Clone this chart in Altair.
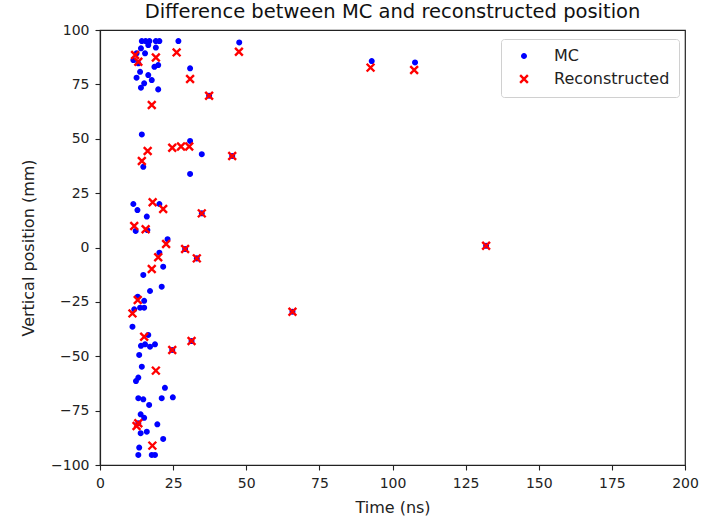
import altair as alt
import pandas as pd

mc_time = [14.3, 15.6, 16.9, 19.1, 20.3, 26.8, 47.6,
           14.0, 16.5, 19.1, 12.5, 15.4, 11.4, 13.1, 18.6, 19.9, 30.8, 13.7, 16.5, 12.5, 17.7, 15.1, 14.0, 19.9,
           92.9, 107.7, 37.3,
           14.3, 30.8, 34.8, 14.8, 30.8, 45.2,
           11.4, 12.8, 20.3, 16.0, 12.2, 16.2, 23.1, 20.3, 21.6, 14.8, 21.1, 17.1, 12.9, 15.1, 15.1, 13.7, 11.7,
           34.8, 29.1, 33.1, 132.0, 65.8,
           11.1, 16.5, 14.0, 15.4, 17.1, 18.8, 13.4, 14.3, 13.1, 12.3, 22.2, 13.1, 14.8, 21.1, 24.9, 16.8, 13.9,
           15.1, 19.6, 13.1, 13.9, 16.0, 21.6, 13.4, 13.1, 17.7, 18.8,
           31.3, 24.7]
mc_pos = [94.9, 94.9, 94.9, 94.9, 94.9, 94.9, 94.3,
          91.6, 93.1, 91.9, 89.3, 89.3, 86.2, 84.7, 83.1, 83.9, 82.4, 80.8, 79.3, 78.1, 77.0, 75.5, 73.5, 72.7,
          85.7, 85.1, 69.8,
          52.0, 49.0, 42.9, 37.1, 33.8, 42.1,
          20.0, 17.2, 20.0, 14.2, 7.6, 8.0, 3.8, -2.4, -8.8, -12.6, -18.0, -20.0, -22.6, -24.5, -27.7, -27.7, -28.4,
          15.7, -0.7, -5.0, 0.8, -29.5,
          -36.4, -40.2, -45.2, -44.5, -45.6, -44.5, -49.4, -54.8, -59.8, -61.4, -64.5, -69.3, -69.8, -69.3, -68.9, -72.4, -76.7,
          -78.3, -81.3, -80.8, -85.4, -84.7, -88.0, -92.0, -95.4, -95.4, -95.4,
          -43.0, -47.1]

reco_time = [12.0, 13.1, 19.1, 26.2, 47.5, 92.5, 107.4, 30.8, 37.3, 17.7, 16.3, 24.7, 27.7, 30.5, 45.2, 14.3,
             18.0, 21.6, 34.8, 11.7, 15.6, 22.6, 29.1, 33.1, 19.9, 17.7, 12.9, 11.1, 132.0, 65.8,
             15.1, 24.7, 31.3, 19.1, 13.1, 12.5, 17.9]
reco_pos = [88.5, 85.4, 87.4, 89.7, 90.0, 82.7, 81.6, 77.5, 69.8, 65.5, 44.4, 45.9, 46.4, 46.4, 42.1, 39.8,
            20.8, 17.7, 15.7, 9.9, 8.4, 1.6, -0.7, -5.0, -4.5, -9.9, -24.1, -30.3, 0.8, -29.5,
            -41.0, -47.1, -43.0, -56.6, -80.8, -82.1, -91.1]

series_names = ["MC", "Reconstructed"]

df = pd.concat([
    pd.DataFrame({"time": mc_time, "pos": mc_pos, "series": series_names[0]}),
    pd.DataFrame({"time": reco_time, "pos": reco_pos, "series": series_names[1]}),
], ignore_index=True)

xpath = "M-1,-1L1,1M-1,1L1,-1"

legend = alt.Legend(title=None, orient="none", legendX=401, legendY=9,
                    padding=9, fillColor="white", strokeColor="#d0d0d0",
                    cornerRadius=3, labelFontSize=16, labelFont="DejaVu Sans",
                    labelColor="#222", labelOffset=22, rowPadding=6,
                    symbolOffset=6, symbolStrokeWidth=2.4)

chart = alt.Chart(df).mark_point(filled=False, strokeWidth=2.4, opacity=1).encode(
    x=alt.X("time:Q", scale=alt.Scale(domain=[0, 200], nice=False, zero=False),
            axis=alt.Axis(values=[0, 25, 50, 75, 100, 125, 150, 175, 200], title="Time (ns)",
                          labelFlush=False)),
    y=alt.Y("pos:Q", scale=alt.Scale(domain=[-100, 100], nice=False),
            axis=alt.Axis(values=[-100, -75, -50, -25, 0, 25, 50, 75, 100], title="Vertical position (mm)",
                          labelFlush=False)),
    color=alt.Color("series:N", scale=alt.Scale(domain=series_names, range=["#0000ff", "#ff0000"]),
                    legend=legend),
    fill=alt.Fill("series:N", scale=alt.Scale(domain=series_names, range=["#0000ff", "rgba(0,0,0,0)"]),
                  legend=legend),
    shape=alt.Shape("series:N", scale=alt.Scale(domain=series_names, range=["circle", xpath]),
                    legend=legend),
    size=alt.Size("series:N", scale=alt.Scale(domain=series_names, range=[13, 60]), legend=legend),
    order=alt.Order("series:N"),
).properties(
    width=585, height=435,
    title=alt.TitleParams("Difference between MC and reconstructed position", fontSize=19.5,
                          font="DejaVu Sans", fontWeight="normal", color="#111", offset=1),
    autosize=alt.AutoSizeParams(type="none"),
    padding={"left": 100, "top": 30, "right": 22, "bottom": 52},
).configure_view(
    stroke="#222", strokeWidth=1.2
).configure_axis(
    grid=False, domainColor="#222", domainWidth=1.2, tickColor="#222", tickSize=5, tickWidth=1.1,
    labelFontSize=14, labelFont="DejaVu Sans", labelColor="#222", labelPadding=6,
    titleFontSize=16, titleFont="DejaVu Sans", titleColor="#222", titleFontWeight="normal",
).configure_axisY(titlePadding=14).configure_axisX(titlePadding=9)

chart.save("out.html", embed_options={"renderer": "svg", "actions": False})
